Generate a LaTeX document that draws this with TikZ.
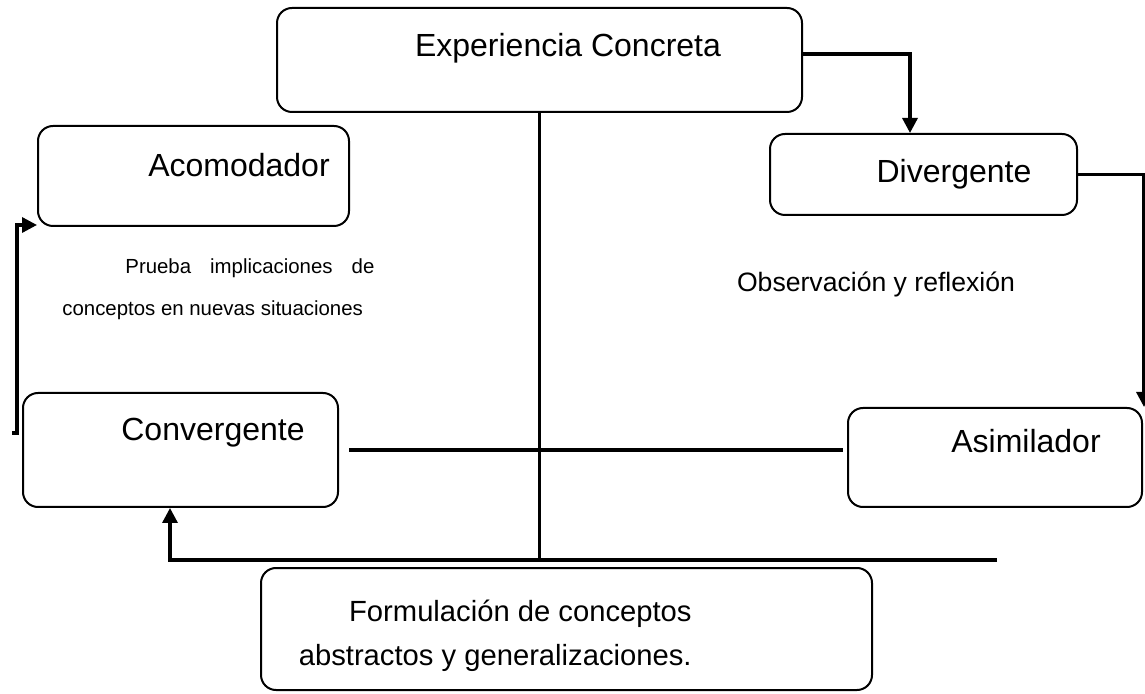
\documentclass[tikz,border=0pt]{standalone}
\usepackage{fontspec}
\setmainfont{Liberation Sans}
\usepackage{tikz}
\usetikzlibrary{positioning}
\usetikzlibrary{arrows.meta}
\tikzset{
    stage/.style={draw, line width=1pt, rounded corners=7.5pt, inner sep=0pt},
    link/.style={line width=1.65pt},
    flow/.style={link, -{Triangle[length=7.5pt,width=7.5pt]}},
    tag/.style={inner sep=0pt, anchor=base, font=\fontsize{16}{19}\selectfont}
}

\begin{document}
\begin{tikzpicture}[x=0.5pt,y=-0.5pt]
          \useasboundingbox (0,0) rectangle (1145,694);
          % the six stages
          \node[stage, minimum width=262.5pt, minimum height=52pt] (exp) at (539.5,60) {};
          \node[stage, minimum width=155.5pt, minimum height=50pt] (acom) at (193.5,176) {};
          \node[stage, minimum width=153.5pt, minimum height=40.5pt] (div) at (923.5,174.5) {};
          \node[stage, minimum width=157.5pt, minimum height=57pt] (conv) at (180.5,450) {};
          \node[stage, minimum width=147pt, minimum height=49.5pt] (asim) at (995,457.5) {};
          \node[stage, minimum width=305.5pt, minimum height=61pt] (form) at (566.5,629) {};
          \node[tag] (expTxt) at (568,57) {Experiencia Concreta};
          \node[tag] (acomTxt) at (239,177) {Acomodador};
          \node[tag] (divTxt) at (954,183) {Divergente};
          \node[tag] (convTxt) at (213,441) {Convergente};
          \node[tag] (asimTxt) at (1026,453) {Asimilador};
          \node[tag, anchor=base east, align=right, font=\fontsize{14.6}{22}\selectfont] (formTxt) at (692,665)
               {Formulación de conceptos\\abstractos y generalizaciones.};
          \node[tag, anchor=base west, align=left, font=\fontsize{10.2}{21}\selectfont] (pruebaTxt) at (62,316)
               {\hspace*{31.5pt}\makebox[124.5pt][s]{Prueba implicaciones de}\\conceptos en nuevas situaciones};
          \node[tag, font=\fontsize{13.3}{16}\selectfont] (obsTxt) at (876,292) {Observación y reflexión};
          % the cross
          \coordinate (baseR) at (997,560);
          \coordinate (baseL) at (170,560);
          \draw[link] (exp.south) -- (exp.south |- baseR);
          \draw[link] ([xshift=5pt]conv.east) -- ([xshift=-2pt]asim.west |- conv.east);
          \draw[flow] (baseR) -- (baseL) -- (baseL |- conv.south);
          % the cycle
          \draw[flow] ([yshift=3pt]exp.east) -| ([xshift=-6.75pt]div.north);
          \draw[flow] (div.east) -| ([xshift=0.5pt]asim.north east);
          \coordinate (convL) at (12,433);
          \draw[flow] (convL) -- ++(5,0) |- ([yshift=1pt]acom.south west);
        \end{tikzpicture}
\end{document}
